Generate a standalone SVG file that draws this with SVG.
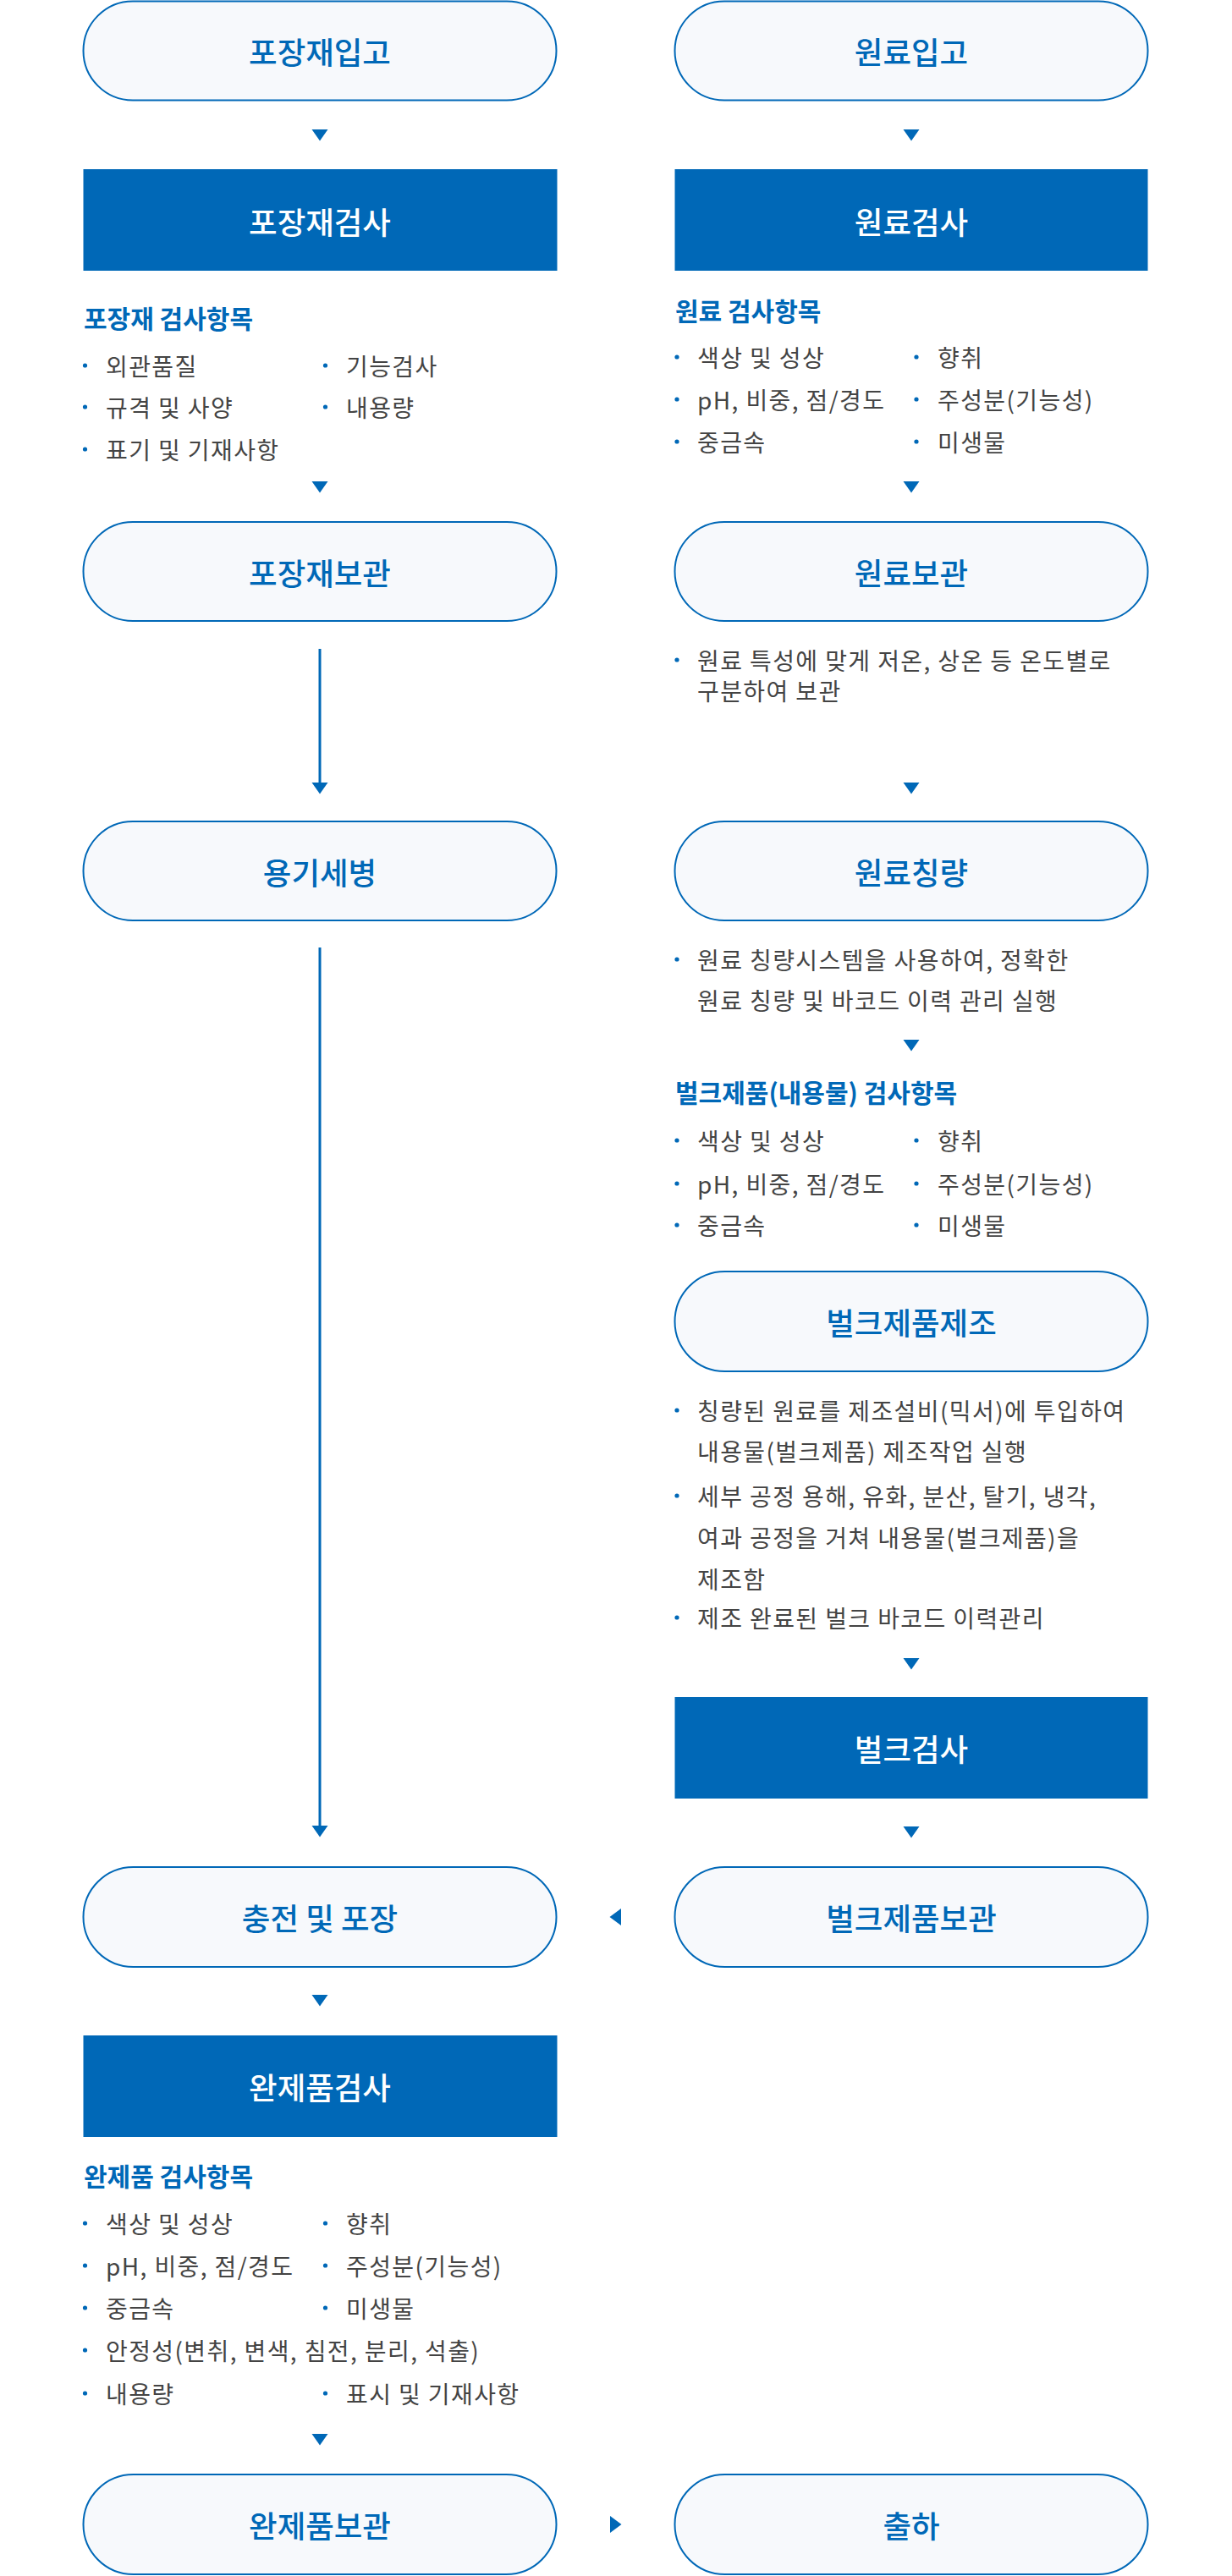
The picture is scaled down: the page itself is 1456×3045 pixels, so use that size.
<svg xmlns="http://www.w3.org/2000/svg" xmlns:xlink="http://www.w3.org/1999/xlink" width="1456" height="3045" viewBox="0 0 1456 3045">
<defs>
<style>
.pill{fill:#f7f9fc;stroke:#0068b7;stroke-width:2}
.box{fill:#0068b7}
.t{font-family:"Noto Sans CJK KR","Noto Sans",sans-serif;dominant-baseline:central}
.pt{font-size:36.5px;font-weight:500;fill:#0068b7;text-anchor:middle}
.bt{font-size:36.5px;font-weight:500;fill:#ffffff;text-anchor:middle}
.h{font-size:30px;font-weight:700;fill:#0068b7}
.li{font-size:28px;font-weight:400;fill:#444444;letter-spacing:1.4px}
.dot{fill:#0068b7}
.ar{fill:#0068b7}
.ln{stroke:#0068b7;stroke-width:3;fill:none}
</style>
<path id="tri" d="M-9.5,0 L9.5,0 L0,13.5 Z"/>
</defs>

<g id="connectors">
<use href="#tri" class="ar" x="378" y="153"/>
<use href="#tri" class="ar" x="1077" y="153"/>
<use href="#tri" class="ar" x="378" y="569"/>
<use href="#tri" class="ar" x="1077" y="569"/>
<line class="ln" x1="378" y1="767" x2="378" y2="927"/>
<use href="#tri" class="ar" x="378" y="925"/>
<use href="#tri" class="ar" x="1077" y="925"/>
<use href="#tri" class="ar" x="1077" y="1229"/>
<use href="#tri" class="ar" x="1077" y="1960"/>
<use href="#tri" class="ar" x="1077" y="2159"/>
<line class="ln" x1="378" y1="1120" x2="378" y2="2160"/>
<use href="#tri" class="ar" x="378" y="2158"/>
<polygon class="ar" points="734,2256 734,2276 720.5,2266"/>
<use href="#tri" class="ar" x="378" y="2358"/>
<use href="#tri" class="ar" x="378" y="2877"/>
<polygon class="ar" points="721,2974 721,2994 734.5,2984"/>
</g>

<g id="n-packaging-in">
<rect class="pill" x="98.5" y="1.5" width="559" height="117" rx="58.5"/>
<text class="t pt" x="378" y="60">포장재입고</text>
</g>
<g id="n-raw-in">
<rect class="pill" x="797.5" y="1.5" width="559" height="117" rx="58.5"/>
<text class="t pt" x="1077" y="60">원료입고</text>
</g>

<g id="n-packaging-inspect">
<rect class="box" x="98.5" y="200" width="560" height="120"/>
<text class="t bt" x="378" y="261">포장재검사</text>
</g>
<g id="n-raw-inspect">
<rect class="box" x="797.5" y="200" width="559" height="120"/>
<text class="t bt" x="1077" y="261">원료검사</text>
</g>

<g id="packaging-items">
<text class="t h" x="99" y="375">포장재 검사항목</text>
<circle class="dot" cx="100.5" cy="432" r="2.6"/><text class="t li" x="125" y="432">외관품질</text>
<circle class="dot" cx="100.5" cy="481" r="2.6"/><text class="t li" x="125" y="481">규격 및 사양</text>
<circle class="dot" cx="100.5" cy="531" r="2.6"/><text class="t li" x="125" y="531">표기 및 기재사항</text>
<circle class="dot" cx="384.5" cy="432" r="2.6"/><text class="t li" x="409" y="432">기능검사</text>
<circle class="dot" cx="384.5" cy="481" r="2.6"/><text class="t li" x="409" y="481">내용량</text>
</g>

<g id="raw-items">
<text class="t h" x="798" y="366">원료 검사항목</text>
<circle class="dot" cx="800" cy="422" r="2.6"/><text class="t li" x="824" y="422">색상 및 성상</text>
<circle class="dot" cx="800" cy="472" r="2.6"/><text class="t li" x="824" y="472">pH, 비중, 점/경도</text>
<circle class="dot" cx="800" cy="522" r="2.6"/><text class="t li" x="824" y="522">중금속</text>
<circle class="dot" cx="1083" cy="422" r="2.6"/><text class="t li" x="1108" y="422">향취</text>
<circle class="dot" cx="1083" cy="472" r="2.6"/><text class="t li" x="1108" y="472">주성분(기능성)</text>
<circle class="dot" cx="1083" cy="522" r="2.6"/><text class="t li" x="1108" y="522">미생물</text>
</g>

<g id="n-packaging-store">
<rect class="pill" x="98.5" y="617" width="559" height="117" rx="58.5"/>
<text class="t pt" x="378" y="676">포장재보관</text>
</g>
<g id="n-raw-store">
<rect class="pill" x="797.5" y="617" width="559" height="117" rx="58.5"/>
<text class="t pt" x="1077" y="676">원료보관</text>
</g>
<g id="raw-store-notes">
<circle class="dot" cx="800" cy="780" r="2.6"/>
<text class="t li" x="824" y="780">원료 특성에 맞게 저온, 상온 등 온도별로</text>
<text class="t li" x="824" y="816">구분하여 보관</text>
</g>

<g id="n-bottle-wash">
<rect class="pill" x="98.5" y="971" width="559" height="117" rx="58.5"/>
<text class="t pt" x="378" y="1030">용기세병</text>
</g>
<g id="n-raw-weigh">
<rect class="pill" x="797.5" y="971" width="559" height="117" rx="58.5"/>
<text class="t pt" x="1077" y="1030">원료칭량</text>
</g>
<g id="raw-weigh-notes">
<circle class="dot" cx="800" cy="1134" r="2.6"/>
<text class="t li" x="824" y="1134">원료 칭량시스템을 사용하여, 정확한</text>
<text class="t li" x="824" y="1182">원료 칭량 및 바코드 이력 관리 실행</text>
</g>

<g id="bulk-items">
<text class="t h" x="798" y="1290">벌크제품(내용물) 검사항목</text>
<circle class="dot" cx="800" cy="1348" r="2.6"/><text class="t li" x="824" y="1348">색상 및 성상</text>
<circle class="dot" cx="800" cy="1399" r="2.6"/><text class="t li" x="824" y="1399">pH, 비중, 점/경도</text>
<circle class="dot" cx="800" cy="1448" r="2.6"/><text class="t li" x="824" y="1448">중금속</text>
<circle class="dot" cx="1083" cy="1348" r="2.6"/><text class="t li" x="1108" y="1348">향취</text>
<circle class="dot" cx="1083" cy="1399" r="2.6"/><text class="t li" x="1108" y="1399">주성분(기능성)</text>
<circle class="dot" cx="1083" cy="1448" r="2.6"/><text class="t li" x="1108" y="1448">미생물</text>
</g>

<g id="n-bulk-make">
<rect class="pill" x="797.5" y="1503" width="559" height="118" rx="59"/>
<text class="t pt" x="1077" y="1562">벌크제품제조</text>
</g>
<g id="bulk-make-notes">
<circle class="dot" cx="800" cy="1667" r="2.6"/>
<text class="t li" x="824" y="1667">칭량된 원료를 제조설비(믹서)에 투입하여</text>
<text class="t li" x="824" y="1715">내용물(벌크제품) 제조작업 실행</text>
<circle class="dot" cx="800" cy="1768" r="2.6"/>
<text class="t li" x="824" y="1768">세부 공정 용해, 유화, 분산, 탈기, 냉각,</text>
<text class="t li" x="824" y="1817">여과 공정을 거쳐 내용물(벌크제품)을</text>
<text class="t li" x="824" y="1866">제조함</text>
<circle class="dot" cx="800" cy="1912" r="2.6"/>
<text class="t li" x="824" y="1912">제조 완료된 벌크 바코드 이력관리</text>
</g>

<g id="n-bulk-inspect">
<rect class="box" x="797.5" y="2006" width="559" height="120"/>
<text class="t bt" x="1077" y="2066">벌크검사</text>
</g>

<g id="n-fill-pack">
<rect class="pill" x="98.5" y="2207" width="559" height="118" rx="59"/>
<text class="t pt" x="378" y="2266">충전 및 포장</text>
</g>
<g id="n-bulk-store">
<rect class="pill" x="797.5" y="2207" width="559" height="118" rx="59"/>
<text class="t pt" x="1077" y="2266">벌크제품보관</text>
</g>

<g id="n-final-inspect">
<rect class="box" x="98.5" y="2406" width="560" height="120"/>
<text class="t bt" x="378" y="2466">완제품검사</text>
</g>

<g id="final-items">
<text class="t h" x="99" y="2571">완제품 검사항목</text>
<circle class="dot" cx="100.5" cy="2628" r="2.6"/><text class="t li" x="125" y="2628">색상 및 성상</text>
<circle class="dot" cx="100.5" cy="2678" r="2.6"/><text class="t li" x="125" y="2678">pH, 비중, 점/경도</text>
<circle class="dot" cx="100.5" cy="2728" r="2.6"/><text class="t li" x="125" y="2728">중금속</text>
<circle class="dot" cx="100.5" cy="2778" r="2.6"/><text class="t li" x="125" y="2778">안정성(변취, 변색, 침전, 분리, 석출)</text>
<circle class="dot" cx="100.5" cy="2829" r="2.6"/><text class="t li" x="125" y="2829">내용량</text>
<circle class="dot" cx="384.5" cy="2628" r="2.6"/><text class="t li" x="409" y="2628">향취</text>
<circle class="dot" cx="384.5" cy="2678" r="2.6"/><text class="t li" x="409" y="2678">주성분(기능성)</text>
<circle class="dot" cx="384.5" cy="2728" r="2.6"/><text class="t li" x="409" y="2728">미생물</text>
<circle class="dot" cx="384.5" cy="2829" r="2.6"/><text class="t li" x="409" y="2829">표시 및 기재사항</text>
</g>

<g id="n-final-store">
<rect class="pill" x="98.5" y="2925" width="559" height="118" rx="59"/>
<text class="t pt" x="378" y="2984">완제품보관</text>
</g>
<g id="n-ship">
<rect class="pill" x="797.5" y="2925" width="559" height="118" rx="59"/>
<text class="t pt" x="1077" y="2984">출하</text>
</g>
</svg>
